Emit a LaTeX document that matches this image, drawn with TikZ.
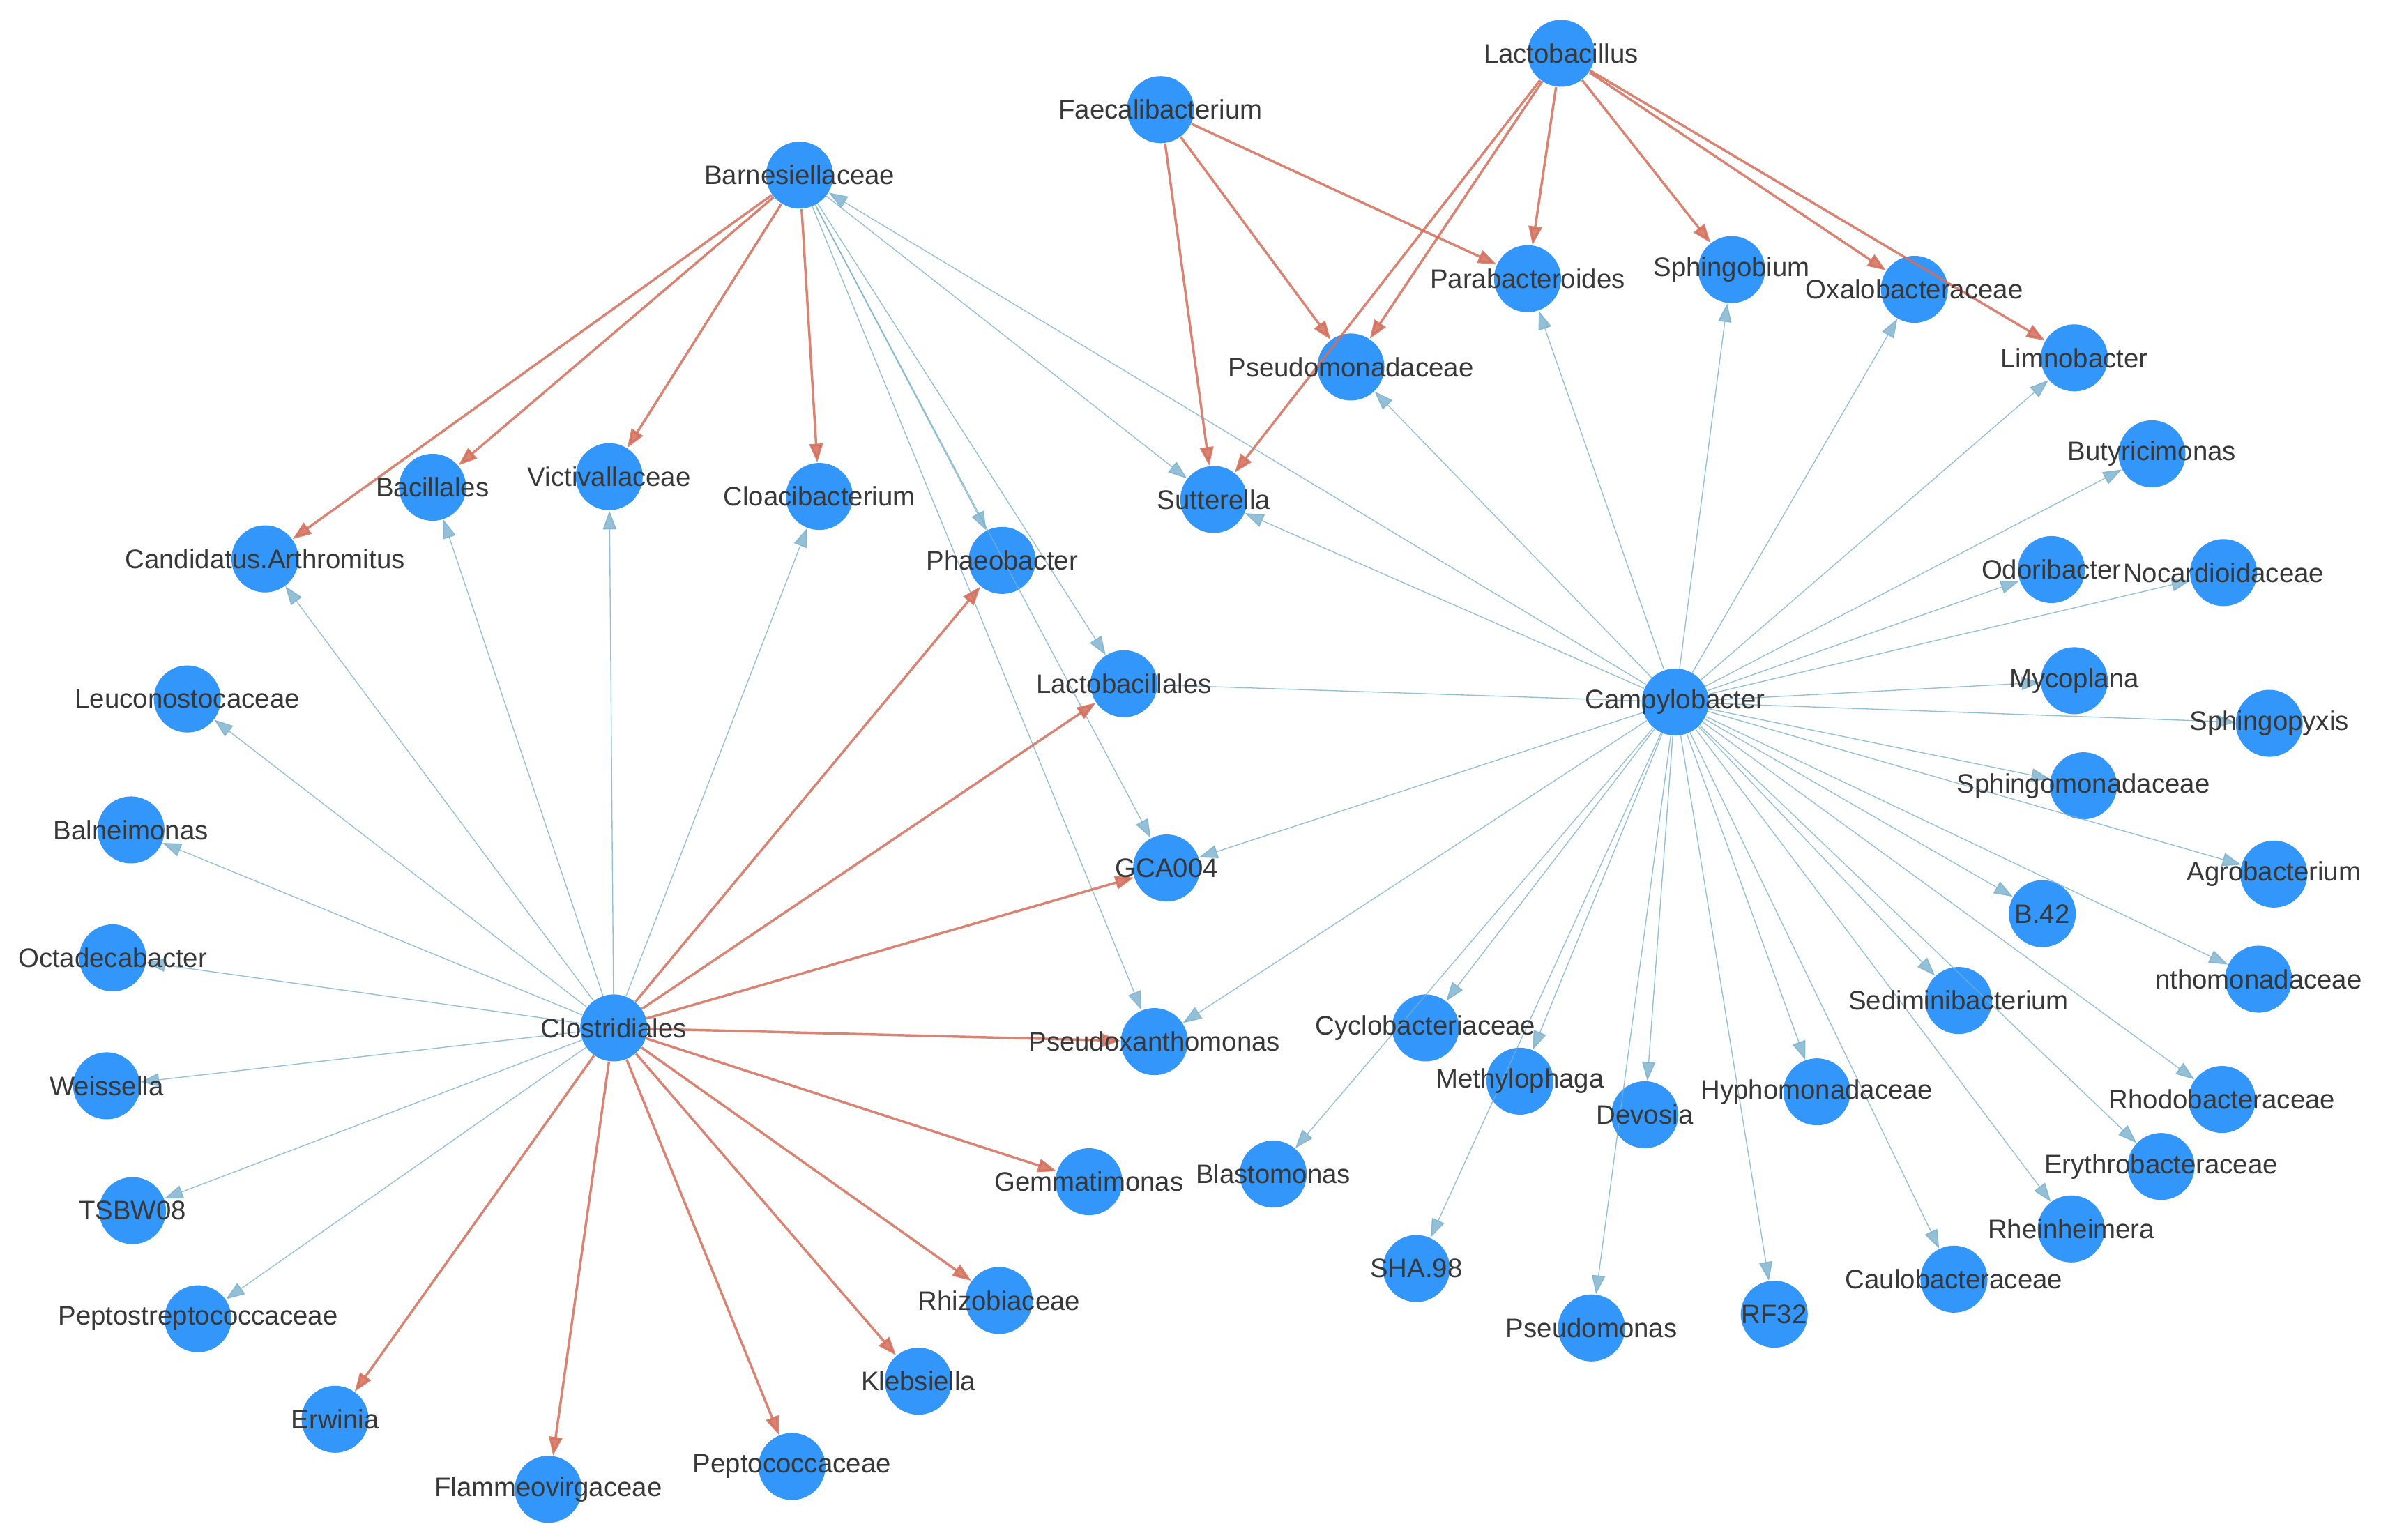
\documentclass[tikz,border=0pt]{standalone}
\usepackage{fontspec}
\setmainfont{Liberation Sans}
\usetikzlibrary{arrows.meta}
\definecolor{nodeblue}{RGB}{51,150,250}
\definecolor{ered}{RGB}{212,110,90}
\definecolor{eblue}{RGB}{120,175,205}
\begin{document}
\begin{tikzpicture}[x=0.02cm,y=-0.02cm,
  nd/.style={circle,fill=nodeblue,minimum size=0.88cm,inner sep=0pt},
  lb/.style={font=\fontsize{10}{12}\selectfont,text=black!78},
  r/.style={draw=ered,line width=0.9pt,opacity=0.85,-{Triangle[length=7pt,width=5pt]}},
  b/.style={draw=eblue,line width=0.35pt,opacity=0.8,-{Triangle[length=7pt,width=5pt]}}]
\fill[white] (0,0) rectangle (1568,1011);
\useasboundingbox (0,0) rectangle (1568,1011);
\foreach \id/\x/\y/\t in {
Lact/1025/35/Lactobacillus, Faec/762/72/Faecalibacterium, Barn/525/115/Barnesiellaceae,
Para/1003/183/Parabacteroides, Sphb/1137/177/Sphingobium, Oxal/1257/190/Oxalobacteraceae,
Limn/1362/235/Limnobacter, Psmd/887/241/Pseudomonadaceae, Buty/1413/298/Butyricimonas,
Sutt/797/328/Sutterella, Baci/284/320/Bacillales, Vict/400/313/Victivallaceae,
Cloa/538/326/Cloacibacterium, Cand/174/367/Candidatus.Arthromitus, Phae/658/368/Phaeobacter,
Odor/1347/374/Odoribacter, Noca/1460/376/Nocardioidaceae, Leuc/123/459/Leuconostocaceae,
Lbls/738/449/Lactobacillales, Camp/1100/461/Campylobacter, Myco/1362/447/Mycoplana,
Sphx/1490/475/Sphingopyxis, Sphm/1368/516/Sphingomonadaceae, Baln/86/545/Balneimonas,
GCA/766/570/GCA004, Agro/1493/574/Agrobacterium, B42/1341/600/B.42,
Octa/74/629/Octadecabacter, Xant/1483/643/nthomonadaceae, Sedi/1286/657/Sediminibacterium,
Clos/403/675/Clostridiales, Psxa/758/684/Pseudoxanthomonas, Cycl/936/675/Cyclobacteriaceae,
Meth/998/710/Methylophaga, Weis/70/713/Weissella, Hyph/1193/717/Hyphomonadaceae,
Devo/1080/732/Devosia, Rhod/1459/722/Rhodobacteraceae, Blas/836/771/Blastomonas,
Gemm/715/776/Gemmatimonas, Eryt/1419/766/Erythrobacteraceae, TSBW/87/795/TSBW08,
Rhei/1360/807/Rheinheimera, SHA/930/833/SHA.98, Caul/1283/840/Caulobacteraceae,
Rhiz/656/854/Rhizobiaceae, RF/1165/863/RF32, Pept/130/866/Peptostreptococcaceae,
Psmn/1045/872/Pseudomonas, Kleb/603/907/Klebsiella, Erwi/220/932/Erwinia,
Pepc/520/963/Peptococcaceae, Flam/360/978/Flammeovirgaceae}
  {\node[nd] (\id) at (\x,\y) {};}
\foreach \t in {Para,Sphb,Oxal,Limn,Psmd,Sutt} \draw[r] (Lact) -- (\t);
\foreach \t in {Para,Psmd,Sutt} \draw[r] (Faec) -- (\t);
\foreach \t in {Cand,Baci,Vict,Cloa} \draw[r] (Barn) -- (\t);
\foreach \t in {Phae,Lbls,GCA,Psxa,Sutt} \draw[b] (Barn) -- (\t);
\foreach \t in {Phae,Lbls,GCA,Psxa,Gemm,Rhiz,Kleb,Pepc,Flam,Erwi} \draw[r] (Clos) -- (\t);
\foreach \t in {Cand,Baci,Vict,Cloa,Leuc,Baln,Octa,Weis,TSBW,Pept} \draw[b] (Clos) -- (\t);
\draw[draw=eblue,line width=0.35pt,opacity=0.8] (Camp) -- (Lbls);
\foreach \t in {Barn,Sutt,Psmd,Para,Sphb,Oxal,Limn,Buty,Odor,Noca,Myco,Sphx,Sphm,Agro,B42,Xant,Sedi,Rhod,Eryt,Rhei,Caul,RF,Psmn,Devo,Hyph,Meth,Cycl,GCA,Psxa,Blas,SHA}
  \draw[b] (Camp) -- (\t);
\foreach \id/\t in {
Lact/Lactobacillus, Faec/Faecalibacterium, Barn/Barnesiellaceae,
Para/Parabacteroides, Sphb/Sphingobium, Oxal/Oxalobacteraceae,
Limn/Limnobacter, Psmd/Pseudomonadaceae, Buty/Butyricimonas,
Sutt/Sutterella, Baci/Bacillales, Vict/Victivallaceae,
Cloa/Cloacibacterium, Cand/Candidatus.Arthromitus, Phae/Phaeobacter,
Odor/Odoribacter, Noca/Nocardioidaceae, Leuc/Leuconostocaceae,
Lbls/Lactobacillales, Camp/Campylobacter, Myco/Mycoplana,
Sphx/Sphingopyxis, Sphm/Sphingomonadaceae, Baln/Balneimonas,
GCA/GCA004, Agro/Agrobacterium, B42/B.42,
Octa/Octadecabacter, Xant/nthomonadaceae, Sedi/Sediminibacterium,
Clos/Clostridiales, Psxa/Pseudoxanthomonas, Cycl/Cyclobacteriaceae,
Meth/Methylophaga, Weis/Weissella, Hyph/Hyphomonadaceae,
Devo/Devosia, Rhod/Rhodobacteraceae, Blas/Blastomonas,
Gemm/Gemmatimonas, Eryt/Erythrobacteraceae, TSBW/TSBW08,
Rhei/Rheinheimera, SHA/SHA.98, Caul/Caulobacteraceae,
Rhiz/Rhizobiaceae, RF/RF32, Pept/Peptostreptococcaceae,
Psmn/Pseudomonas, Kleb/Klebsiella, Erwi/Erwinia,
Pepc/Peptococcaceae, Flam/Flammeovirgaceae}
  {\node[lb] (\id-l) at (\id) {\t};}
\end{tikzpicture}
\end{document}
